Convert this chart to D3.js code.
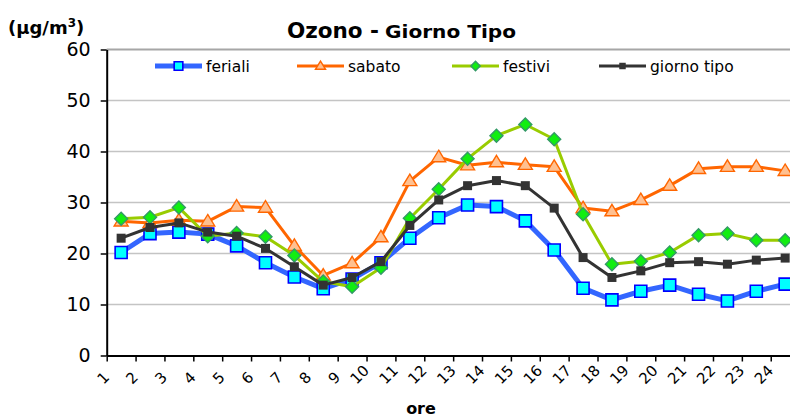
<!DOCTYPE html>
<html>
<head>
<meta charset="utf-8">
<script src="https://cdn.jsdelivr.net/npm/d3@7/dist/d3.min.js"></script>
<style>
  html, body { margin: 0; padding: 0; background: #fff; }
  svg { display: block; font-family: "DejaVu Sans", Verdana, sans-serif; }
</style>
</head>
<body>
<svg id="chart" width="790" height="417"></svg>
<script>
// Hours of the day
const hours = d3.range(1, 25).map(String);

// Ozone concentration (µg/m³) by hour
const feriali    = [20.2, 23.9, 24.2, 23.8, 21.5, 18.2, 15.4, 13.1, 15.0, 18.2, 23.0, 27.0, 29.5, 29.2, 26.4, 20.7, 13.2, 10.9, 12.6, 13.8, 12.0, 10.7, 12.6, 14.0];
const sabato     = [26.3, 26.0, 26.5, 26.3, 29.2, 29.0, 21.5, 15.7, 18.1, 23.2, 34.2, 38.9, 37.3, 37.9, 37.4, 37.0, 28.9, 28.3, 30.5, 33.3, 36.6, 37.0, 37.0, 36.2];
const festivi    = [26.8, 27.1, 29.0, 23.4, 24.0, 23.3, 19.6, 14.5, 13.5, 17.2, 26.9, 32.6, 38.6, 43.1, 45.3, 42.4, 27.7, 17.9, 18.5, 20.2, 23.6, 23.9, 22.6, 22.6];
const giornoTipo = [23.0, 25.1, 26.0, 24.2, 23.4, 21.0, 17.4, 13.8, 15.3, 18.4, 25.5, 30.5, 33.3, 34.3, 33.3, 28.9, 19.2, 15.3, 16.6, 18.2, 18.4, 17.9, 18.7, 19.1];

const yTicks = [0, 10, 20, 30, 40, 50, 60];

const seriesDefs = [
  { name: "feriali",     values: feriali,    line: "#3366FF", lw: 5, marker: "square",   size: 12, fill: "#00FFFF", stroke: "#0000FF", sw: 1.6, legendX: 155 },
  { name: "sabato",      values: sabato,     line: "#FF6600", lw: 3, marker: "triangle", size: 14, fill: "#FFC090", stroke: "#FF6600", sw: 1.4, legendX: 297 },
  { name: "festivi",     values: festivi,    line: "#99CC00", lw: 3, marker: "diamond",  size: 13, fill: "#11EE11", stroke: "#339966", sw: 1.4, legendX: 452 },
  { name: "giorno tipo", values: giornoTipo, line: "#333333", lw: 3, marker: "square",   size: 9,  fill: "#333333", stroke: "#333333", sw: 0,   legendX: 599 }
];

const svg = d3.select("#chart");

const plot = { left: 106.7, right: 799.6, top: 49.5, bottom: 355.5 };

const x = d3.scaleBand().domain(hours).range([plot.left, plot.right]).paddingInner(0).paddingOuter(0);
const xEdges = d3.scaleLinear().domain([0, hours.length]).range([plot.left, plot.right]);
const y = d3.scaleLinear().domain([0, 60]).range([plot.bottom, plot.top]);

// Horizontal gridlines
svg.append("g")
  .selectAll("line")
  .data(yTicks.filter(d => d > 0))
  .join("line")
  .attr("x1", plot.left).attr("x2", plot.right)
  .attr("y1", d => y(d)).attr("y2", d => y(d))
  .attr("stroke", d => d === 60 ? "#A6A6A6" : "#C4C4C4")
  .attr("stroke-width", d => d === 60 ? 2 : 1.5);

// Marker path generators
function markerPath(type, s) {
  const h = s / 2;
  if (type === "square") return `M${-h},${-h}H${h}V${h}H${-h}Z`;
  if (type === "diamond") return `M0,${-h}L${h},0L0,${h}L${-h},0Z`;
  if (type === "triangle") {
    const th = s * 0.82;
    return `M0,${-th * 0.6}L${h},${th * 0.4}L${-h},${th * 0.4}Z`;
  }
  return "";
}

const line = d3.line()
  .x((d, i) => x(hours[i]) + x.bandwidth() / 2)
  .y(d => y(d));

// Series lines and markers
seriesDefs.forEach(s => {
  const g = svg.append("g");
  g.append("path")
    .datum(s.values)
    .attr("d", line)
    .attr("fill", "none")
    .attr("stroke", s.line)
    .attr("stroke-width", s.lw)
    .attr("stroke-linejoin", "round");
  g.selectAll("path.mk")
    .data(s.values)
    .join("path")
    .attr("class", "mk")
    .attr("transform", (d, i) => `translate(${x(hours[i]) + x.bandwidth() / 2},${y(d)})`)
    .attr("d", markerPath(s.marker, s.size))
    .attr("fill", s.fill)
    .attr("stroke", s.sw ? s.stroke : "none")
    .attr("stroke-width", s.sw);
});

// Y axis
const yAxis = svg.append("g")
  .attr("transform", `translate(${plot.left},0)`)
  .call(d3.axisLeft(y).tickValues(yTicks).tickSize(6).tickPadding(10).tickSizeOuter(0));
yAxis.select(".domain").attr("stroke", "#000").attr("stroke-width", 2);
yAxis.selectAll(".tick line").attr("stroke", "#000").attr("stroke-width", 1.5);
yAxis.selectAll(".tick text")
  .attr("font-family", "DejaVu Sans")
  .attr("font-size", 19)
  .attr("fill", "#000");

// X axis (ticks between categories)
const xAxis = svg.append("g")
  .attr("transform", `translate(0,${plot.bottom})`)
  .call(d3.axisBottom(xEdges).tickValues(d3.range(0, hours.length + 1)).tickFormat("").tickSize(6).tickSizeOuter(0));
xAxis.select(".domain").attr("stroke", "#000").attr("stroke-width", 2);
xAxis.selectAll(".tick line").attr("stroke", "#000").attr("stroke-width", 1.5);

// Rotated hour labels
const xl = svg.append("g");
hours.forEach((h, i) => {
  const tx = xEdges(i) + 3.5;
  const t = xl.append("text")
    .attr("font-family", "DejaVu Sans")
    .attr("font-size", 15)
    .attr("fill", "#000")
    .attr("text-anchor", "end")
    .text(h);
  const w = t.node().getComputedTextLength();
  const ty = 385 - 0.707 * w;
  t.attr("transform", `translate(${tx},${ty}) rotate(-45)`);
});

// Axis titles
svg.append("text")
  .attr("x", 421).attr("y", 414)
  .attr("text-anchor", "middle")
  .attr("font-family", "DejaVu Sans")
  .attr("font-weight", "bold")
  .attr("font-size", 16)
  .text("ore");

const unit = svg.append("text")
  .attr("x", 8).attr("y", 34)
  .attr("font-family", "DejaVu Sans")
  .attr("font-weight", "bold")
  .attr("font-size", 18);
unit.append("tspan").text("(µg/m");
unit.append("tspan").attr("font-size", 12).attr("dy", -7).text("3");
unit.append("tspan").attr("dy", 7).text(")");

// Title
svg.append("text")
  .attr("x", 287).attr("y", 38)
  .attr("font-family", "DejaVu Sans")
  .attr("font-weight", "bold")
  .attr("font-size", 21.5)
  .text("Ozono -");
svg.append("text")
  .attr("x", 385).attr("y", 38)
  .attr("font-family", "DejaVu Sans")
  .attr("font-weight", "bold")
  .attr("font-size", 18)
  .attr("textLength", 131)
  .attr("lengthAdjust", "spacingAndGlyphs")
  .text("Giorno Tipo");

// Legend
const legY = 66;
seriesDefs.forEach(s => {
  const g = svg.append("g");
  g.append("line")
    .attr("x1", s.legendX).attr("x2", s.legendX + 47)
    .attr("y1", legY).attr("y2", legY)
    .attr("stroke", s.line)
    .attr("stroke-width", s.lw);
  g.append("path")
    .attr("transform", `translate(${s.legendX + 23.5},${legY})`)
    .attr("d", markerPath(s.marker, s.size * 0.72))
    .attr("fill", s.fill)
    .attr("stroke", s.sw ? s.stroke : "none")
    .attr("stroke-width", s.sw);
  g.append("text")
    .attr("x", s.legendX + 51).attr("y", legY + 6)
    .attr("font-family", "DejaVu Sans")
    .attr("font-size", 15.5)
    .attr("fill", "#000")
    .text(s.name);
});
</script>
</body>
</html>
